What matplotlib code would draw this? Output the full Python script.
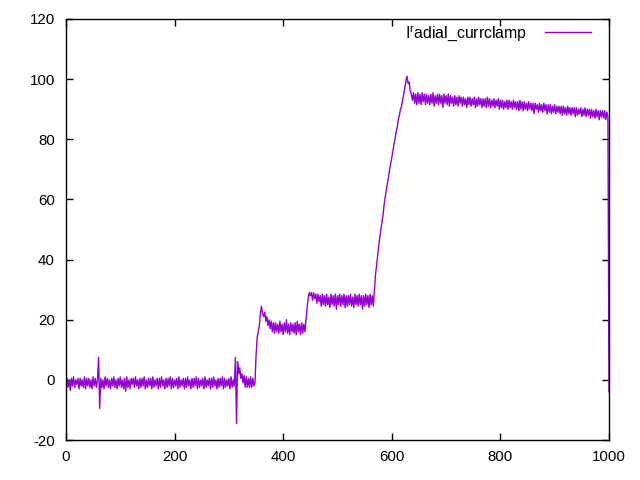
"""
plot.py
Recreates the gnuplot style current clamp trace and saves it to out.png
"""
# !/usr/bin/env python3

import numpy as np
import matplotlib
matplotlib.use('Agg')
import matplotlib.pyplot as plt

# sample spacing of the trace (x units)
X_STEP = 2

# trace values, one every X_STEP from 0 to 1000
baseline_start = [-1, 0.5, -2.5, 0, -3.5, 0.5, -2, 1, -2.5, 0,                   # 0..18
                  -1.5, 0.5, -3, 0.5, -2, 0, -2.5, 1, -3, 0.5,
                  -2, 0.5, -2.5, 0, -3, 1, -2, 0.5, -2.5, 0]                     # ..58
first_spike = [7.5, -9.5]                                                        # 60, 62
baseline_mid = [0.5, -2.5, 0, -3, 1, -2, 0.5, -2.5, 0, -3,                       # 64..82
                0.5, -2, 1, -2.5, 0, -3, 0.5, -2, 1, -2.5,
                0, -3, 0.5, -3.8, 1, -2.5, 0, -3, 0.5, -1.5,
                0.5, -2.5, 1, -2, 0, -3, 0.5, -2.5, 0.5, -2,
                1, -3, 0, -2.5, 0.5, -2, 0.5, -3, 1, -2.5,
                0, -2, 0.5, -3, 0.5, -2.5, 1, -2, 0, -3,
                0.5, -2.5, 0.5, -2, 1, -3, 0.5, -2.5, 0, -2,
                0.5, -3, 1, -2.5, 0, -2, 0.5, -3, 0.5, -2.5,
                1, -2, 0, -3, 0.5, -2.5, 0.5, -2, 1, -3,
                0.5, -2.5, 0, -2, 0.5, -3, 1, -2.5, 0, -2,
                0.5, -3, 0.5, -2.5, 1, -2, 0, -3, 0.5, -2.5,
                0.5, -2, 1, -3, 0.5, -2.5, 0, -2, 0.5, -3,
                1, -2.5, 0, -2]                                                  # ..310
second_spike = [7.5, -14.5, 6, 2, 4, 0.5, 2, -1, 1.5, -2.5,                      # 312..330
                1, -2.5, 0.5, -2.5, 1, -2.5, 0.5, -2]                            # ..346
first_rise = [-1, 8, 14, 16, 18, 22, 24.5, 22]                                   # 348..362
first_step = [21, 22.5, 19.5, 21, 18, 20, 17, 19.5, 16, 19,                      # 364..382
              15.5, 19, 16, 18.5, 15.5, 19.5, 16, 18.5, 15, 19,
              16, 20, 15.5, 18.5, 15, 19, 16, 18.5, 15.5, 19,
              15, 19.5, 16, 18.5, 15, 19, 15.5, 18.5, 16]                        # ..440
second_rise = [20, 24, 27, 29]                                                   # 442..448
second_step = [28, 29, 26.5, 29, 27, 28.5, 25.5, 28.5, 26, 28,                   # 450..468
               24.5, 28.5, 25, 28, 24.5, 28.5, 25, 27.5, 24, 28.5,
               25, 28, 24.5, 28.5, 23.5, 28, 25, 28.5, 24.5, 28,
               25, 28.5, 24, 28, 24.5, 28, 25, 28.5, 24.5, 27.5,
               24, 28.5, 25, 28, 24.5, 28.5, 25, 28, 23.5, 28,
               24.5, 28.5, 25, 28, 24, 28.5, 25, 28, 24.5]                       # ..566
third_rise = [30, 35, 38, 41.5, 44.5, 47.5, 50, 52.5, 55, 58.5,                  # 568..586
              61, 63, 65.5, 67.5, 70, 72, 74, 76, 78.5, 80,
              82.5, 84, 86.5, 88, 90, 91, 93, 95, 97, 99.5,
              101]                                                               # 628
plateau = [98.5, 99, 96, 95, 93, 95.5, 92, 95, 91.5, 95.5,                       # 630..648
           92, 95, 91.5, 95.5, 92.5, 95, 91.5, 95, 92, 94.5,
           91.5, 95, 92, 95.5, 91, 94.5, 92, 95, 91.5, 95,
           92, 94.5, 90.5, 95, 92, 94.5, 91.5, 95, 91, 94.5,
           92, 94, 91, 94.5, 91.5, 94, 91, 94.5, 92, 94,
           91, 94, 91.5, 93.5, 90.5, 94, 91.5, 94, 91, 93.5,
           91.5, 94, 90.5, 93.5, 91, 94, 91.5, 93.5, 90.5, 93.5,
           91, 93.5, 90.5, 94, 91, 93.5, 90.5, 93, 91, 93.5,
           90.5, 93, 91, 93.5, 90, 93, 90.5, 93, 90, 92.5,
           90.5, 93, 90, 93, 90.5, 92.5, 90, 93, 90.5, 92.5,
           90, 92.5, 89.5, 93, 90, 92.5, 89.5, 92.5, 90, 92,
           89.5, 92.5, 90, 92, 89.5, 92, 88.5, 92, 90, 91.5,
           89, 92, 89.5, 91.5, 89, 92, 89.5, 91.5, 88.5, 91.5,
           89, 91.5, 88.5, 91, 89, 91.5, 88.5, 91, 89, 91,
           88.5, 91, 88, 91, 88.5, 90.5, 88, 91, 88.5, 90.5,
           88, 90.5, 88.5, 90.5, 87.5, 90.5, 88, 90, 88.5, 90.5,
           87.5, 90, 88, 90.5, 87.5, 90, 88, 90, 87, 90,
           87.5, 89.5, 87, 90, 87.5, 89.5, 86.5, 89.5, 87.5, 89.5,
           87, 89.5, 86.5, 89, 87.5]                                             # ..998
end_drop = [-4]                                                                  # 1000

xticks = [0, 200, 400, 600, 800, 1000]
yticks = [-20, 0, 20, 40, 60, 80, 100, 120]
# the small raised r after the I is drawn as a superscript
label = r'I$^{\mathregular{r}}$adial_currclamp'

LINE_COLOR = '#9400d3'


def main():
    trace = np.array(baseline_start + first_spike + baseline_mid + second_spike
                     + first_rise + first_step + second_rise + second_step
                     + third_rise + plateau + end_drop, dtype=float)
    x = np.arange(0, 1001, X_STEP)
    assert len(x) == len(trace), (len(x), len(trace))

    plt.rcParams['font.family'] = ['Liberation Sans', 'DejaVu Sans']
    plt.rcParams['font.size'] = 11
    plt.rcParams['axes.unicode_minus'] = False
    plt.rcParams['mathtext.fontset'] = 'custom'
    plt.rcParams['mathtext.rm'] = 'Liberation Sans'

    fig = plt.figure(figsize=(6.4, 4.8), dpi=100)
    ax = fig.add_axes([66 / 640, 1 - 440 / 480, (609 - 66) / 640, (440 - 19) / 480])

    ax.plot(x, trace, color=LINE_COLOR, linewidth=1.0, label=label)

    ax.set_xlim(0, 1000)
    ax.set_ylim(-20, 120)
    ax.set_xticks(xticks)
    ax.set_yticks(yticks)
    # gnuplot look: inward ticks mirrored on all sides
    ax.tick_params(direction='in', length=5, width=1, top=True, right=True,
                   labelsize=10.8, colors='black')
    ax.tick_params(axis='x', pad=7)
    ax.tick_params(axis='y', pad=8)
    for sp in ax.spines.values():
        sp.set_linewidth(1)
        sp.set_color('black')

    ax.legend(loc='upper right', bbox_to_anchor=(0.985, 1.012), frameon=False,
              markerfirst=False, handlelength=2.9, handletextpad=1.15,
              fontsize=11.4, borderaxespad=0.2)

    fig.savefig('out.png', dpi=100)


if __name__ == "__main__":
    main()
